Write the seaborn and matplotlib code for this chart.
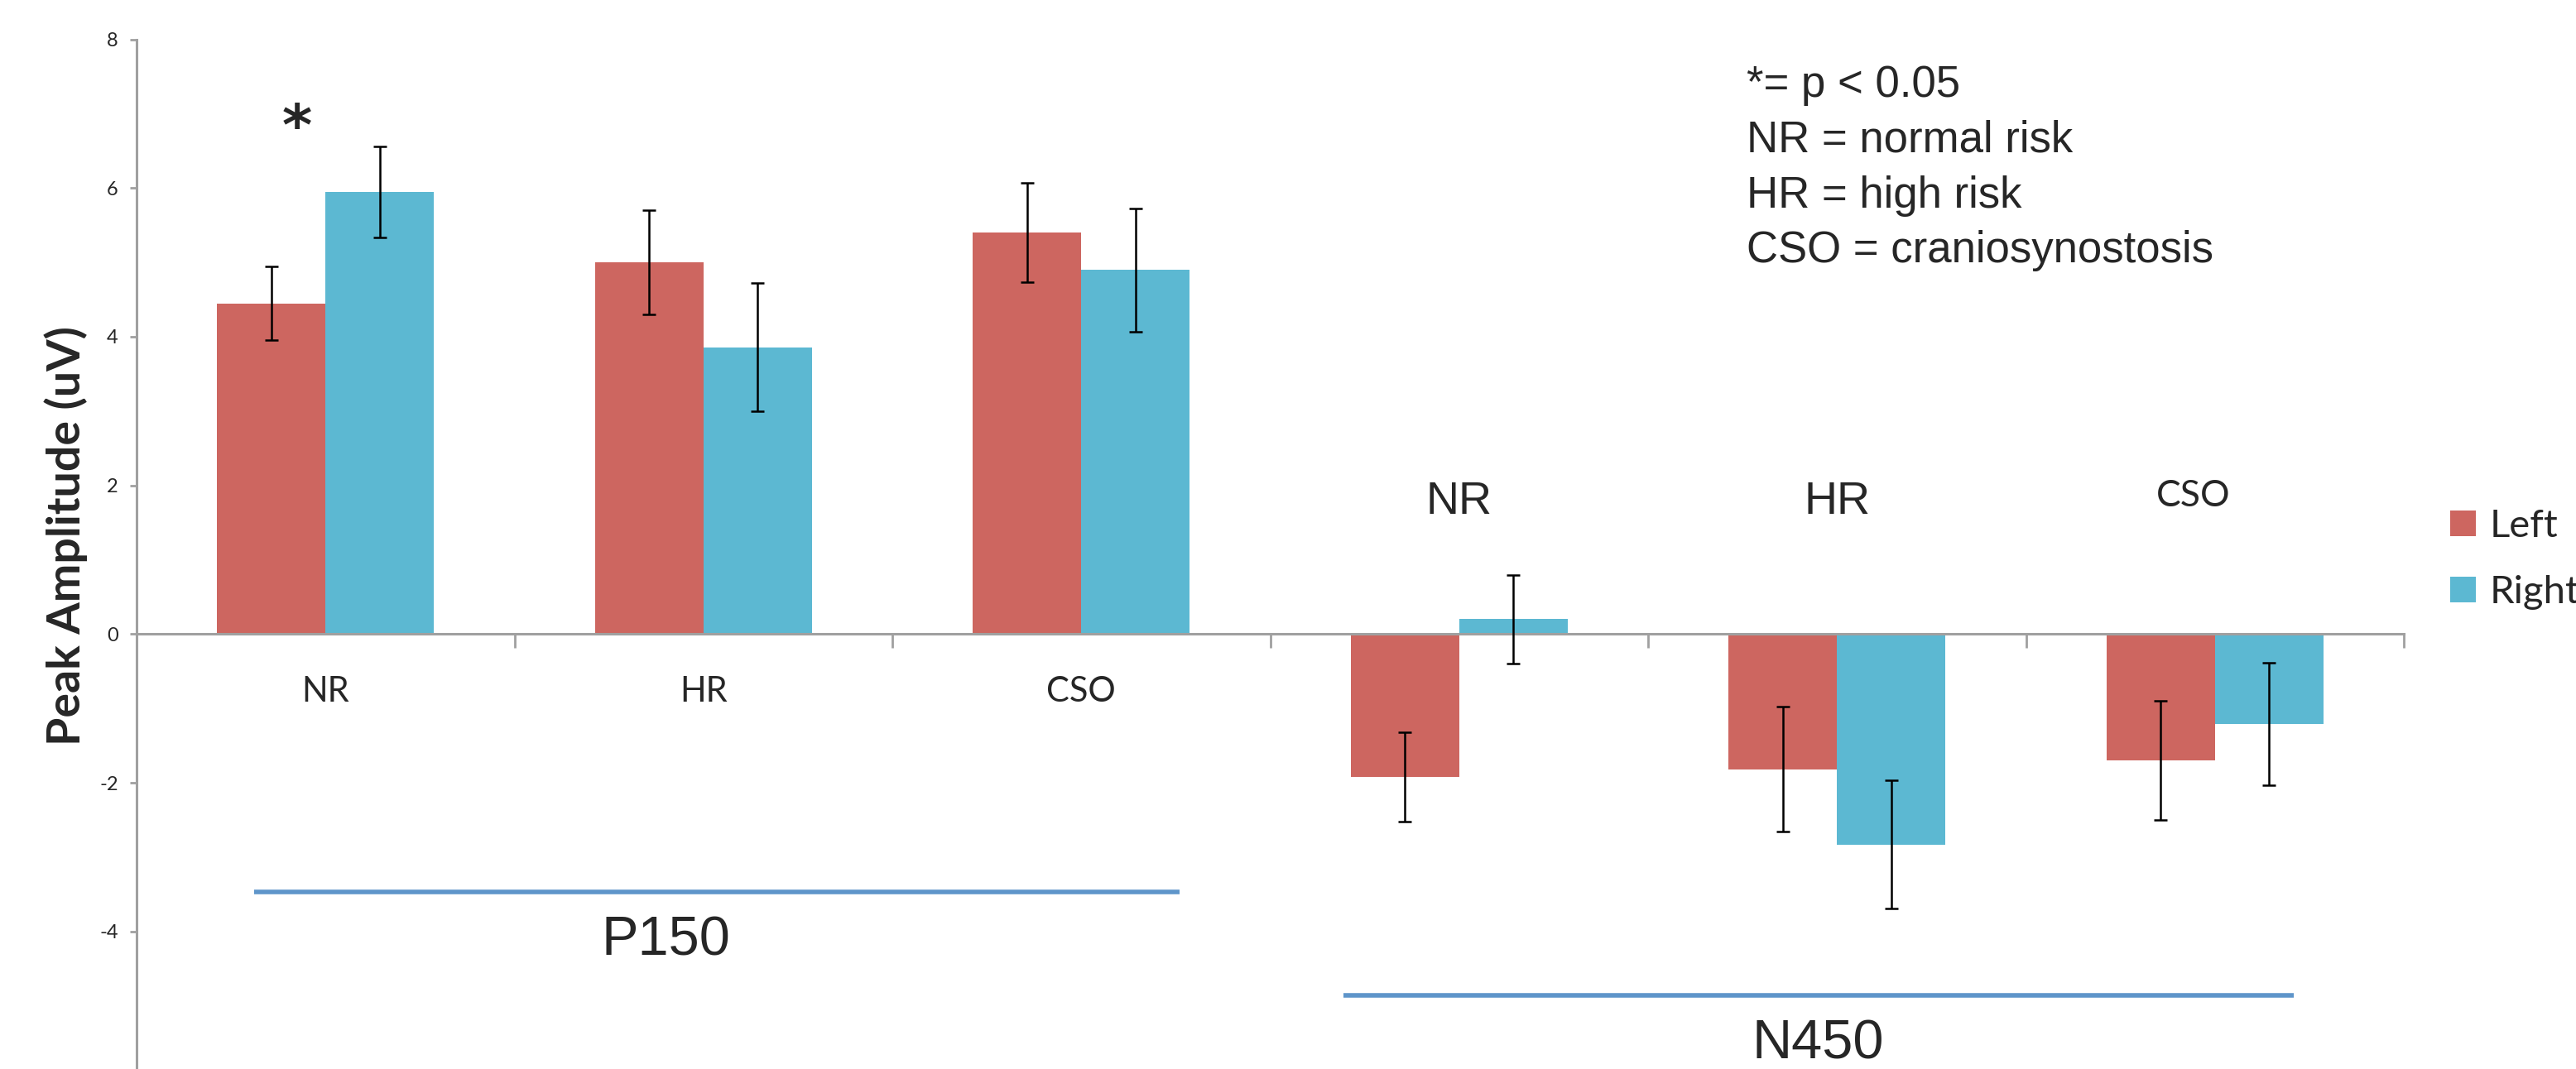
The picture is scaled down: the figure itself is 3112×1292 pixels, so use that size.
import numpy as np
import pandas as pd
import matplotlib
matplotlib.use("Agg")
import matplotlib.pyplot as plt
import seaborn as sns

# ---- data -------------------------------------------------------------
components = ["P150", "P150", "P150", "N450", "N450", "N450"]
groups = ["NR", "HR", "CSO", "NR", "HR", "CSO"]
sides = ["Left", "Right"]
left_amp = [4.45, 5.00, 5.40, -1.92, -1.82, -1.70]
left_err = [0.50, 0.70, 0.67, 0.60, 0.84, 0.80]
right_amp = [5.95, 3.86, 4.90, 0.20, -2.83, -1.21]
right_err = [0.61, 0.86, 0.83, 0.60, 0.86, 0.82]
yticks = [-4, -2, 0, 2, 4, 6, 8]
notes = ["*= p < 0.05", "NR = normal risk", "HR = high risk", "CSO = craniosynostosis"]
y_label = "Peak Amplitude (uV)"

RED = "#CD6660"
BLUE = "#5CB8D2"
LINE_BLUE = "#5E95CA"
AXIS_GRAY = "#A0A0A0"

cells = [f"{c} {g}" for c, g in zip(components, groups)]
df = pd.DataFrame({
    "cell": cells * 2,
    "side": ["Left"] * len(cells) + ["Right"] * len(cells),
    "amp": left_amp + right_amp,
    "err": left_err + right_err,
})

# ---- figure -----------------------------------------------------------
sns.set_style("white")
plt.rcParams["font.family"] = ["Lato", "DejaVu Sans"]

W, H, DPI = 3112, 1292, 200
fig = plt.figure(figsize=(W / DPI, H / DPI), dpi=DPI)
ax = fig.add_axes([165 / W, 0.0, (2904 - 165) / W, (1292 - 47.6) / H])

sns.barplot(data=df, x="cell", y="amp", hue="side", order=cells,
            hue_order=sides, palette={"Left": RED, "Right": BLUE},
            width=0.574, errorbar=None, saturation=1, linewidth=0, ax=ax)

# standard-error bars on top of each bar
for cont, side in zip(ax.containers, sides):
    sub = df[df["side"] == side].set_index("cell").loc[cells]
    xs = [b.get_x() + b.get_width() / 2 for b in cont]
    ax.errorbar(xs, sub["amp"].values, yerr=sub["err"].values, fmt="none",
                ecolor="black", elinewidth=0.9, capsize=3.0, capthick=0.9,
                zorder=5)

ax.set_xlim(-0.5, len(cells) - 0.5)
ax.set_ylim(-5.85, 8)
ax.set_yticks(yticks)
ax.set_yticklabels([str(t) for t in yticks], fontsize=8.5)
ax.set_xticks(np.arange(-0.5, len(cells), 1.0))
ax.set_xticklabels([])
ax.set_xlabel("")
ax.set_ylabel(y_label, fontsize=20, fontweight="bold", labelpad=0)
ax.yaxis.set_label_coords(-0.0215, 0.518)

for s in ("top", "right"):
    ax.spines[s].set_visible(False)
ax.spines["bottom"].set_position(("data", 0))
for s in ("left", "bottom"):
    ax.spines[s].set_color(AXIS_GRAY)
    ax.spines[s].set_linewidth(1.1)
ax.tick_params(axis="y", direction="out", length=3, width=1.0,
               color=AXIS_GRAY, pad=5, left=True)
ax.tick_params(axis="x", direction="out", length=6, width=1.0,
               color=AXIS_GRAY, bottom=True)

# condition labels under / over the zero line
for i, (c, g) in enumerate(zip(components, groups)):
    if c == "P150":
        ax.text(i, -0.78, g, ha="center", va="center", fontsize=15)
    elif g == "CSO":
        ax.text(i - 0.057, 1.86, g, ha="center", va="center", fontsize=16)
    else:
        ax.text(i, 1.77, g, ha="center", va="center", fontsize=20,
                family=["Liberation Sans", "DejaVu Sans"])

# component brackets
ax.plot([-0.19, 2.26], [-3.47, -3.47], color=LINE_BLUE, lw=2.0,
        solid_capstyle="butt", clip_on=False)
ax.text(0.9, -4.13, "P150", ha="center", va="center", fontsize=24,
        family=["Liberation Sans", "DejaVu Sans"])
ax.plot([2.694, 5.209], [-4.86, -4.86], color=LINE_BLUE, lw=2.0,
        solid_capstyle="butt", clip_on=False)
ax.text(3.95, -5.52, "N450", ha="center", va="center", fontsize=24,
        family=["Liberation Sans", "DejaVu Sans"])

# significance marker
ax.text(-0.075, 6.8, "*", ha="center", va="center", fontsize=25,
        fontweight="bold", family=["DejaVu Sans"])

# abbreviations key
fig.text(2110 / W, 1 - 78 / H, "\n".join(notes), ha="left", va="top",
         fontsize=19, linespacing=1.43,
         family=["Liberation Sans", "DejaVu Sans"])

# series legend at the right edge
sns.move_legend(ax, "center left", bbox_to_anchor=(2960 / W, 1 - 676 / H),
                bbox_transform=fig.transFigure, frameon=False, title=None,
                fontsize=17, handlelength=0.66, handleheight=0.64,
                handletextpad=0.35, labelspacing=0.8, borderpad=0,
                borderaxespad=0)

fig.savefig("out.png", dpi=DPI, facecolor="white")
